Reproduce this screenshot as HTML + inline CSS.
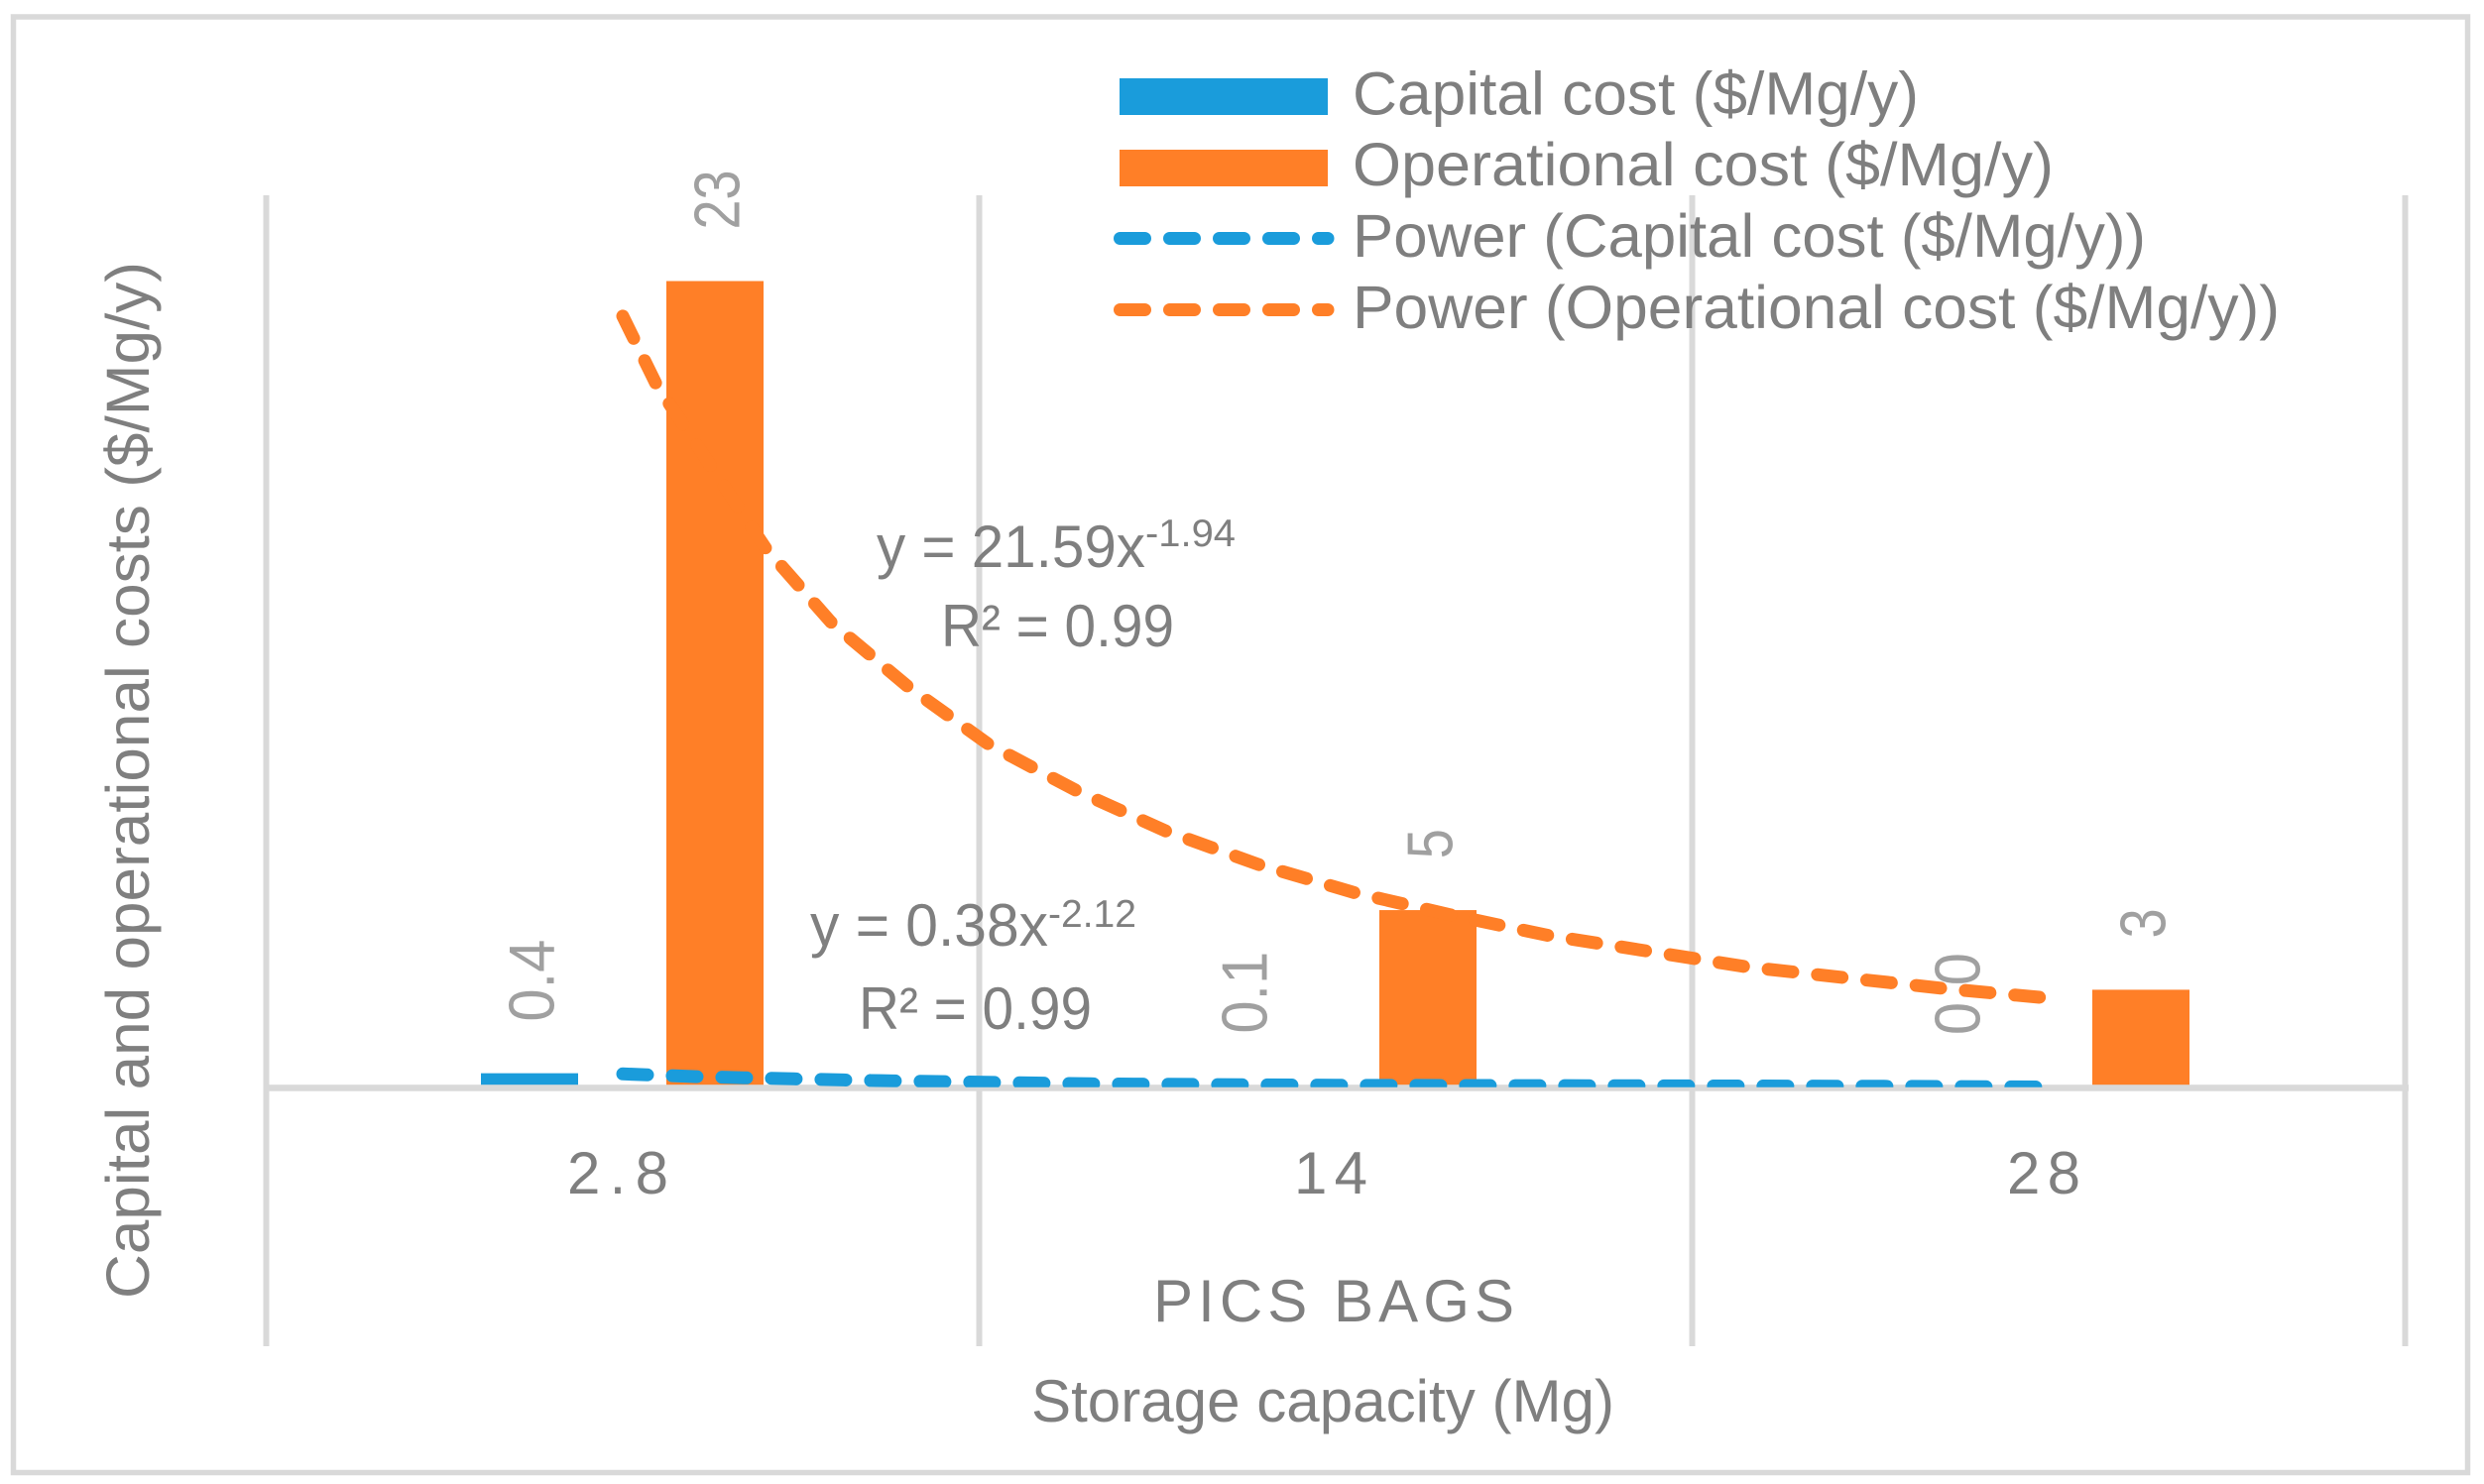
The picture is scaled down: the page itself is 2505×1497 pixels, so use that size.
<!DOCTYPE html>
<html lang="en">
<head>
<meta charset="utf-8">
<title>Capital and operational costs of PICS bags</title>
<style>
  html, body { margin: 0; padding: 0; background: #fff; }
  svg { display: block; }
  text { font-family: "Liberation Sans", sans-serif; fill: #7f7f7f; }
  .data-label { fill: #a0a0a0; font-size: 65px; }
</style>
</head>
<body>
<svg id="chart" xmlns="http://www.w3.org/2000/svg" width="2505" height="1497" viewBox="0 0 2505 1497">
  <defs>
    <clipPath id="plot-clip"><rect x="268" y="150" width="2160" height="946.8"></rect></clipPath>
  </defs>
  <rect x="0" y="0" width="2505" height="1497" fill="#ffffff"></rect>
  <rect x="13.5" y="17" width="2475" height="1468.5" fill="none" stroke="#d9d9d9" stroke-width="5.5"></rect>

  <g id="grid-layer"></g>
  <g id="bar-layer"></g>
  <rect x="266" y="1094.2" width="2163" height="6.5" fill="#d9d9d9"></rect>
  <g id="label-layer"></g>
  <g id="tick-layer"></g>

  <text x="1163" y="1333" font-size="60" textLength="364" lengthAdjust="spacing">PICS BAGS</text>
  <text x="1040" y="1434" font-size="60" textLength="588" lengthAdjust="spacingAndGlyphs">Storage capacity (Mg)</text>
  <text transform="translate(150 1310) rotate(-90)" font-size="61" textLength="1046" lengthAdjust="spacingAndGlyphs">Capital and operational costs ($/Mg/y)</text>

  <g id="trend-layer"></g>

  <g>
    <text x="884" y="572" font-size="60" textLength="271" lengthAdjust="spacingAndGlyphs">y = 21.59x</text>
    <text x="1155" y="551" font-size="39" textLength="91" lengthAdjust="spacingAndGlyphs">-1.94</text>
    <text x="949" y="652" font-size="60" textLength="235" lengthAdjust="spacingAndGlyphs">R² = 0.99</text>
  </g>
  <g>
    <text x="817" y="954" font-size="60" textLength="240" lengthAdjust="spacingAndGlyphs">y = 0.38x</text>
    <text x="1057" y="935" font-size="39" textLength="89" lengthAdjust="spacingAndGlyphs">-2.12</text>
    <text x="866" y="1038" font-size="60" textLength="235" lengthAdjust="spacingAndGlyphs">R² = 0.99</text>
  </g>

  <g>
    <g>
      <rect x="1129" y="79" width="210" height="37" fill="#1a9cdb"></rect>
      <text x="1364" y="115.5" font-size="61" textLength="571" lengthAdjust="spacingAndGlyphs">Capital cost ($/Mg/y)</text>
    </g>
    <g>
      <rect x="1129" y="151" width="210" height="37" fill="#ff7f27"></rect>
      <text x="1364" y="187" font-size="61" textLength="707" lengthAdjust="spacingAndGlyphs">Operational cost ($/Mg/y)</text>
    </g>
    <g>
      <line x1="1129.5" y1="240.5" x2="1339" y2="240.5" stroke="#1a9cdb" stroke-width="13" stroke-linecap="round" stroke-dasharray="25 25"></line>
      <text x="1364" y="259" font-size="61" textLength="800" lengthAdjust="spacingAndGlyphs">Power (Capital cost ($/Mg/y))</text>
    </g>
    <g>
      <line x1="1129.5" y1="312.5" x2="1339" y2="312.5" stroke="#ff7f27" stroke-width="13" stroke-linecap="round" stroke-dasharray="25 25"></line>
      <text x="1364" y="331" font-size="61" textLength="935" lengthAdjust="spacingAndGlyphs">Power (Operational cost ($/Mg/y))</text>
    </g>
  </g>
</svg>

<script>
var categories = ["2.8", "14", "28"];
var capitalValues = [0.42, 0.08, 0.04];
var operationalValues = [23, 5.07, 2.8];
var capitalLabels = ["0.4", "0.1", "0.0"];
var operationalLabels = ["23", "5", "3"];
var operationalTrendPositions = [1.0, 1.047, 1.2, 1.292, 1.4, 1.513, 1.636, 1.762, 1.893, 2.026, 2.16, 2.298, 2.438, 2.577, 2.716, 2.855, 2.99];
var operationalTrendValues = [22.0, 20.06, 15.4, 13.28, 11.44, 9.8, 8.48, 7.32, 6.36, 5.57, 4.94, 4.35, 3.9, 3.45, 3.14, 2.83, 2.58];
var capitalTrendPositions = [1.0, 1.1, 1.17, 1.24, 1.31, 1.38, 1.656, 2.0, 2.352, 2.769, 2.989];
var capitalTrendValues = [0.40, 0.325, 0.29, 0.26, 0.23, 0.20, 0.12, 0.076, 0.065, 0.048, 0.028];

var NS = "http://www.w3.org/2000/svg";
var BLUE = "#1a9cdb";
var ORANGE = "#ff7f27";

function xScale(position) { return 628 + (position - 1) * 719; }
function yScale(value) { return 1097.5 - value * 35.39; }
function make(tag, parent) {
  var el = document.createElementNS(NS, tag);
  parent.appendChild(el);
  return el;
}
function labelLength(label) {
  var dots = label.split(".").length - 1;
  return (label.length - dots) * 30 + dots * 23;
}

var gridLayer = document.getElementById("grid-layer");
for (var g = 0; g <= categories.length; g++) {
  var gridLine = make("line", gridLayer);
  
  
  var gridX = xScale(g + 0.5);
  gridLine.setAttribute("x1", gridX);
  gridLine.setAttribute("x2", gridX);
  gridLine.setAttribute("y1", 197);
  gridLine.setAttribute("y2", 1358);
  gridLine.setAttribute("stroke", "#d9d9d9");
  gridLine.setAttribute("stroke-width", 6);
}

function drawBars(values, offset, color, nameText) {
  var layer = document.getElementById("bar-layer");
  values.forEach(function (value, i) {
    var bar = make("rect", layer);
    
    
    var center = xScale(i + 1) + offset;
    bar.setAttribute("x", center - 49);
    bar.setAttribute("width", 98);
    bar.setAttribute("y", yScale(value));
    bar.setAttribute("height", yScale(0) - yScale(value));
    bar.setAttribute("fill", color);
  });
}
drawBars(capitalValues, -94, BLUE, "capital-cost-bar");
drawBars(operationalValues, 93, ORANGE, "operational-cost-bar");

function drawLabels(values, labels, offset, nameText) {
  var layer = document.getElementById("label-layer");
  values.forEach(function (value, i) {
    var label = make("text", layer);
    
    
    label.setAttribute("class", "data-label");
    var lx = xScale(i + 1) + offset + 24.5;
    var ly = yScale(value) - 52;
    label.setAttribute("transform", "translate(" + lx + " " + ly + ") rotate(-90)");
    label.setAttribute("textLength", labelLength(labels[i]));
    label.setAttribute("lengthAdjust", "spacingAndGlyphs");
    label.textContent = labels[i];
  });
}
drawLabels(capitalValues, capitalLabels, -94, "capital-cost-value-label");
drawLabels(operationalValues, operationalLabels, 93, "operational-cost-value-label");

var tickLayer = document.getElementById("tick-layer");
categories.forEach(function (cat, i) {
  var tick = make("text", tickLayer);
  
  
  tick.setAttribute("x", xScale(i + 1) - 5);
  tick.setAttribute("y", 1204);
  tick.setAttribute("font-size", 60);
  tick.setAttribute("text-anchor", "middle");
  tick.setAttribute("textLength", cat.length === 3 ? 102 : 74);
  tick.setAttribute("lengthAdjust", "spacing");
  tick.textContent = cat;
});

function drawTrend(positions, values, color, nameText, clipped) {
  var layer = document.getElementById("trend-layer");
  var path = make("path", layer);
  
  
  var d = "";
  positions.forEach(function (p, i) {
    d += (i === 0 ? "M" : "L") + xScale(p).toFixed(1) + " " + yScale(values[i]).toFixed(1) + " ";
  });
  path.setAttribute("d", d);
  path.setAttribute("fill", "none");
  path.setAttribute("stroke", color);
  path.setAttribute("stroke-width", 13);
  path.setAttribute("stroke-linecap", "round");
  path.setAttribute("stroke-linejoin", "round");
  path.setAttribute("stroke-dasharray", "25 25");
  if (clipped) { path.setAttribute("clip-path", "url(#plot-clip)"); }
}
drawTrend(operationalTrendPositions, operationalTrendValues, ORANGE, "operational-cost-trendline", false);
drawTrend(capitalTrendPositions, capitalTrendValues, BLUE, "capital-cost-trendline", true);
</script>
</body>
</html>
